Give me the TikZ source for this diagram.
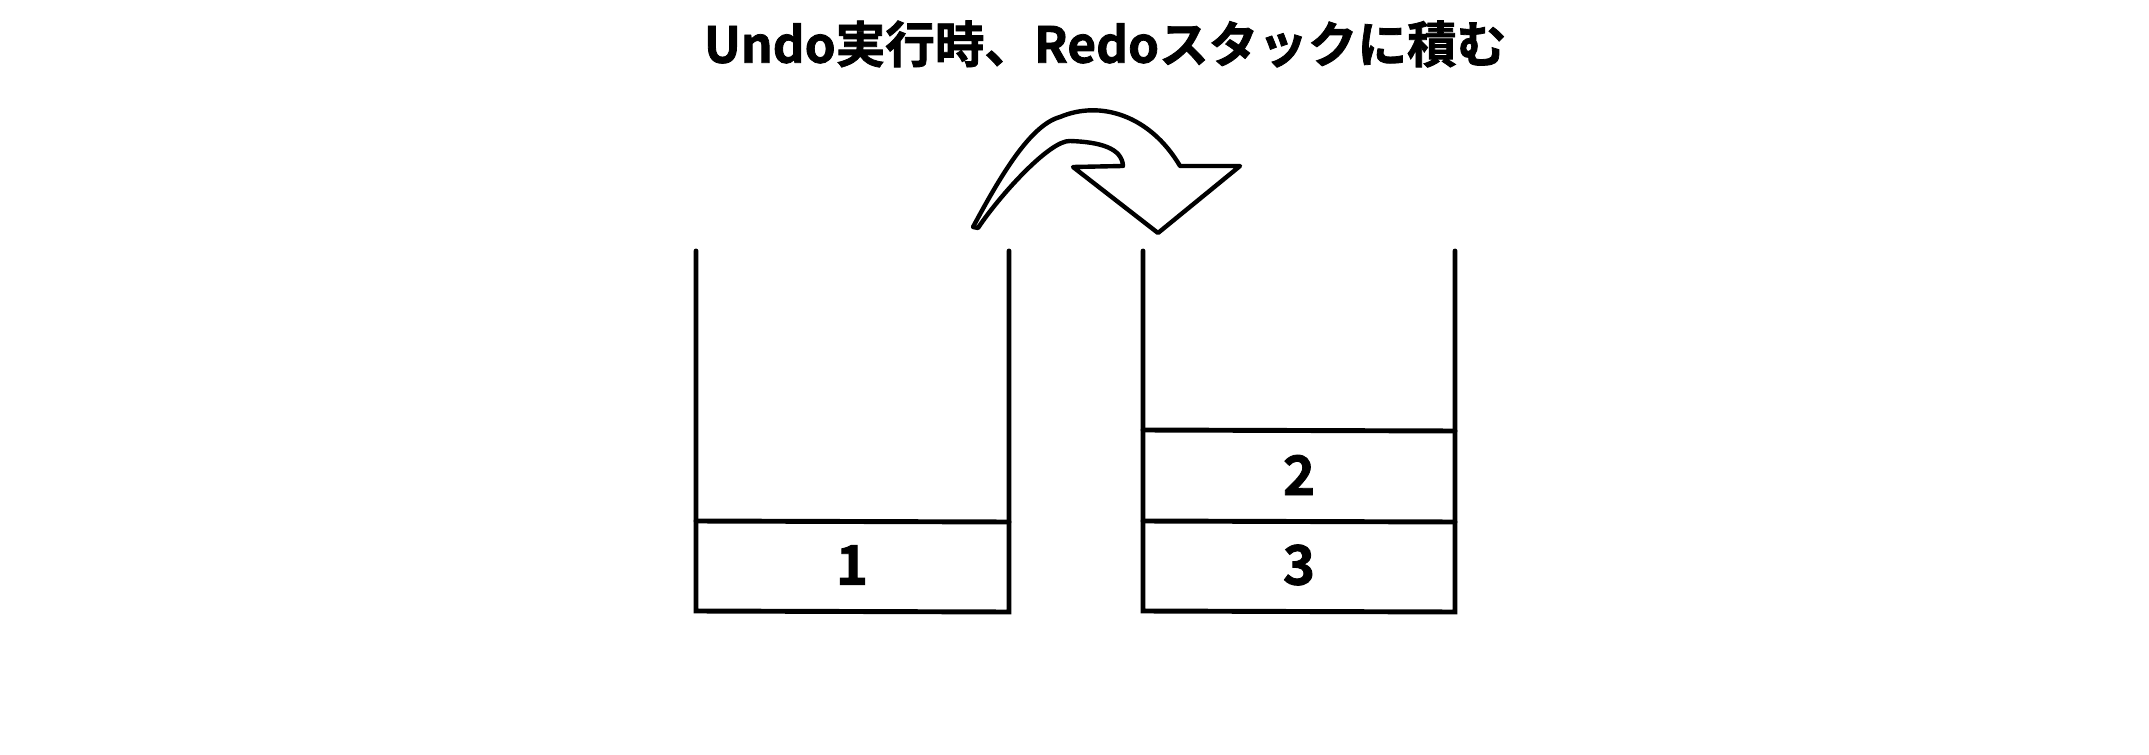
\documentclass[tikz,border=0pt]{standalone}
\usepackage{fontspec}
\newfontfamily\cjk{Noto Sans CJK JP}[UprightFont=* Bold, UprightFeatures={FakeBold=1.6}]
\begin{document}
\begin{tikzpicture}[x=0.01cm,y=-0.01cm,
  wall/.style={line width=1.4pt,line cap=round},
  arrowline/.style={line width=1.25pt,line join=round},
  celltext/.style={font=\cjk\fontsize{15.5}{18}\selectfont},
  titletext/.style={font=\cjk\fontsize{14.1}{17}\selectfont}]
\useasboundingbox (0,0) rectangle (2149,755);
\fill[white] (0,0) rectangle (2149,755);
\node[titletext] (title) at (1105,44) {Undo実行時、Redoスタックに積む};
% left stack
\coordinate (LTL) at (696,251); \coordinate (LBL) at (696,611);
\coordinate (LTR) at (1009,251); \coordinate (LBR) at (1009,612);
\coordinate (LD1) at (696,521); \coordinate (LD2) at (1009,522);
\draw[wall] (LTL) -- (LBL) -- (LBR) -- (LTR);
\draw[wall] (LD1) -- (LD2);
\node[celltext] (one) at (852,565) {1};
% right stack
\coordinate (RTL) at (1143,251); \coordinate (RBL) at (1143,611);
\coordinate (RTR) at (1455,251); \coordinate (RBR) at (1455,612);
\coordinate (RA1) at (1143,430); \coordinate (RA2) at (1455,431);
\coordinate (RB1) at (1143,521); \coordinate (RB2) at (1455,522);
\draw[wall] (RTL) -- (RBL) -- (RBR) -- (RTR);
\draw[wall] (RA1) -- (RA2);
\draw[wall] (RB1) -- (RB2);
\node[celltext] (two) at (1299,475) {2};
\node[celltext] (three) at (1299,565) {3};
% curved arrow
\draw[arrowline] (973,227) .. controls (1000,177) and (1030,125) .. (1060,117)
  .. controls (1100,100) and (1150,115) .. (1180,166)
  -- (1240,166) -- (1158,233) -- (1073,167) -- (1123,166)
  .. controls (1122,148) and (1100,142) .. (1070,141)
  .. controls (1050,140) and (1000,195) .. (978,228) -- cycle;
\end{tikzpicture}
\end{document}
